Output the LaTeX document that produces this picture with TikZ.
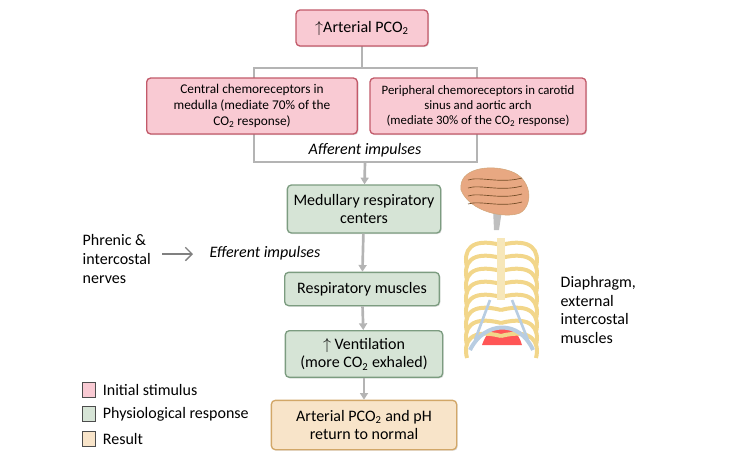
\documentclass[tikz,border=0pt]{standalone}
\usepackage{fontspec}
\setmainfont{Carlito}
\usetikzlibrary{arrows.meta}
\usetikzlibrary{shadows}
\usetikzlibrary{positioning}
\definecolor{mpink}{HTML}{F9CAD3}
\definecolor{mpinkd}{HTML}{C25A6A}
\definecolor{mgreen}{HTML}{D6E4D6}
\definecolor{mgreend}{HTML}{7C9C80}
\definecolor{mtan}{HTML}{F8E4C9}
\definecolor{mtand}{HTML}{D2A768}
\definecolor{mgray}{HTML}{B4B4B4}
\definecolor{mbrain}{HTML}{E8A882}
\definecolor{mbone}{HTML}{F2D68A}
\definecolor{mcart}{HTML}{B8CDE2}
\tikzset{
  box/.style={draw, rounded corners=3pt, line width=1pt, align=center, inner sep=2pt,
    drop shadow={shadow xshift=0.8pt, shadow yshift=-0.8pt, opacity=0.25}},
  stim/.style={box, fill=mpink, draw=mpinkd},
  resp/.style={box, fill=mgreen, draw=mgreend},
  res/.style={box, fill=mtan, draw=mtand},
  link/.style={mgray, line width=2pt},
  flow/.style={link, -{Triangle[length=5pt,width=6pt]}},
  key/.style={draw=black!70, minimum width=10pt, minimum height=11pt, inner sep=0pt}
}
\begin{document}
\begin{tikzpicture}[x=0.75pt, y=-0.75pt]
      \useasboundingbox (0, 0) rectangle (733, 465);

      % connectors behind the boxes
      \coordinate (top) at (362, 68);
      \coordinate (bot) at (365, 162);
      \coordinate (cl) at (254, 90);
      \coordinate (cr) at (477, 90);
      \draw [link] (362, 40) -- (top);
      \draw [link] (cl) |- (top) -| (cr);
      \draw [link] (cl) |- (bot) -| (cr);

      \node [stim, minimum width=99pt, minimum height=27pt] (pco) at (362, 28) {\large$\uparrow$Arterial PCO\textsubscript{2}};

      \node [stim, minimum width=158pt, minimum height=42pt] (cen) at (252, 106)
        {Central chemoreceptors in\\medulla (mediate 70\% of the\\CO\textsubscript{2} response)};
      \node [stim, minimum width=162pt, minimum height=42pt, font=\fontsize{9.6}{11}\selectfont] (per) at (478, 106)
        {Peripheral chemoreceptors in carotid\\sinus and aortic arch\\(mediate 30\% of the CO\textsubscript{2} response)};

      \node [font=\large\itshape] (aff) at (365, 150) {Afferent impulses};

      \node [resp, minimum width=115pt, minimum height=36pt, font=\large] (med) at (364, 209) {Medullary respiratory\\centers};
      \node [resp, minimum width=116pt, minimum height=25pt, font=\large] (mus) at (362, 289) {Respiratory muscles};
      \node [resp, minimum width=118pt, minimum height=35pt, font=\large] (ven) at (364, 354) {$\uparrow$ Ventilation\\(more CO\textsubscript{2} exhaled)};
      \node [res, minimum width=139pt, minimum height=37pt, font=\large] (ret) at (364, 425) {Arterial PCO\textsubscript{2} and pH\\return to normal};

      \draw [flow] (bot) -- (med);
      \draw [flow] (med) -- (mus);
      \draw [flow] (mus) -- (ven);
      \draw [flow] (ven) -- (ret);

      \node [font=\large\itshape] (eff) at (265, 253) {Efferent impulses};
      \node [align=left, anchor=west, font=\large] (phr) at (78, 259) {Phrenic \&\\intercostal\\nerves};
      \coordinate (a1) at (162, 254);
      \coordinate (a2) at (193, 254);
      \draw [gray, line width=1pt, -{Straight Barb[length=5pt]}] (a1) -- (a2);

      \node [align=left, anchor=west, font=\large] (dia) at (556, 310) {Diaphragm,\\external\\intercostal\\muscles};

      % brain
      \fill [black!25] (494, 230) -- (499, 230) -- (502, 210) -- (493, 208) -- cycle;
      \draw [fill=mbrain, draw=brown!70] (461, 190) .. controls (458, 168) and (490, 164) .. (510, 171)
        .. controls (532, 178) and (534, 205) .. (520, 213) .. controls (505, 219) and (470, 212) .. (461, 190);
      \foreach \y in {180, 188, 196, 204}
        \draw [brown!60!black, line width=0.5pt] (468, \y) .. controls (480, \y-4) and (500, \y+4) .. (522, \y-2);

      % ribcage
      \fill [red!55!pink] (482, 345) .. controls (490, 320) and (515, 320) .. (522, 345) -- cycle;
      \foreach \y in {245, 258, ..., 336}
        \draw [mbone, line width=3pt] (501, \y) .. controls (470, \y-8) and (463, \y+6) .. (467, \y+22)
                                      (501, \y) .. controls (532, \y-8) and (540, \y+6) .. (536, \y+22);
      \draw [mcart, line width=3pt] (470, 350) .. controls (485, 320) and (520, 320) .. (533, 350);
      \draw [mcart, line width=2pt] (490, 300) -- (475, 340) (512, 300) -- (528, 340);
      \draw [mbone!60, line width=6pt] (501, 238) -- (501, 300);

      % key
      \node [key, fill=mpink] (k1) at (89, 390) {};
      \node [key, fill=mgreen] (k2) at (89, 414) {};
      \node [key, fill=mtan] (k3) at (89, 439) {};
      \node [right=5pt of k1, inner sep=0pt, font=\large] (l1) {Initial stimulus};
      \node [right=5pt of k2, inner sep=0pt, font=\large] (l2) {Physiological response};
      \node [right=5pt of k3, inner sep=0pt, font=\large] (l3) {Result};
    \end{tikzpicture}
\end{document}
